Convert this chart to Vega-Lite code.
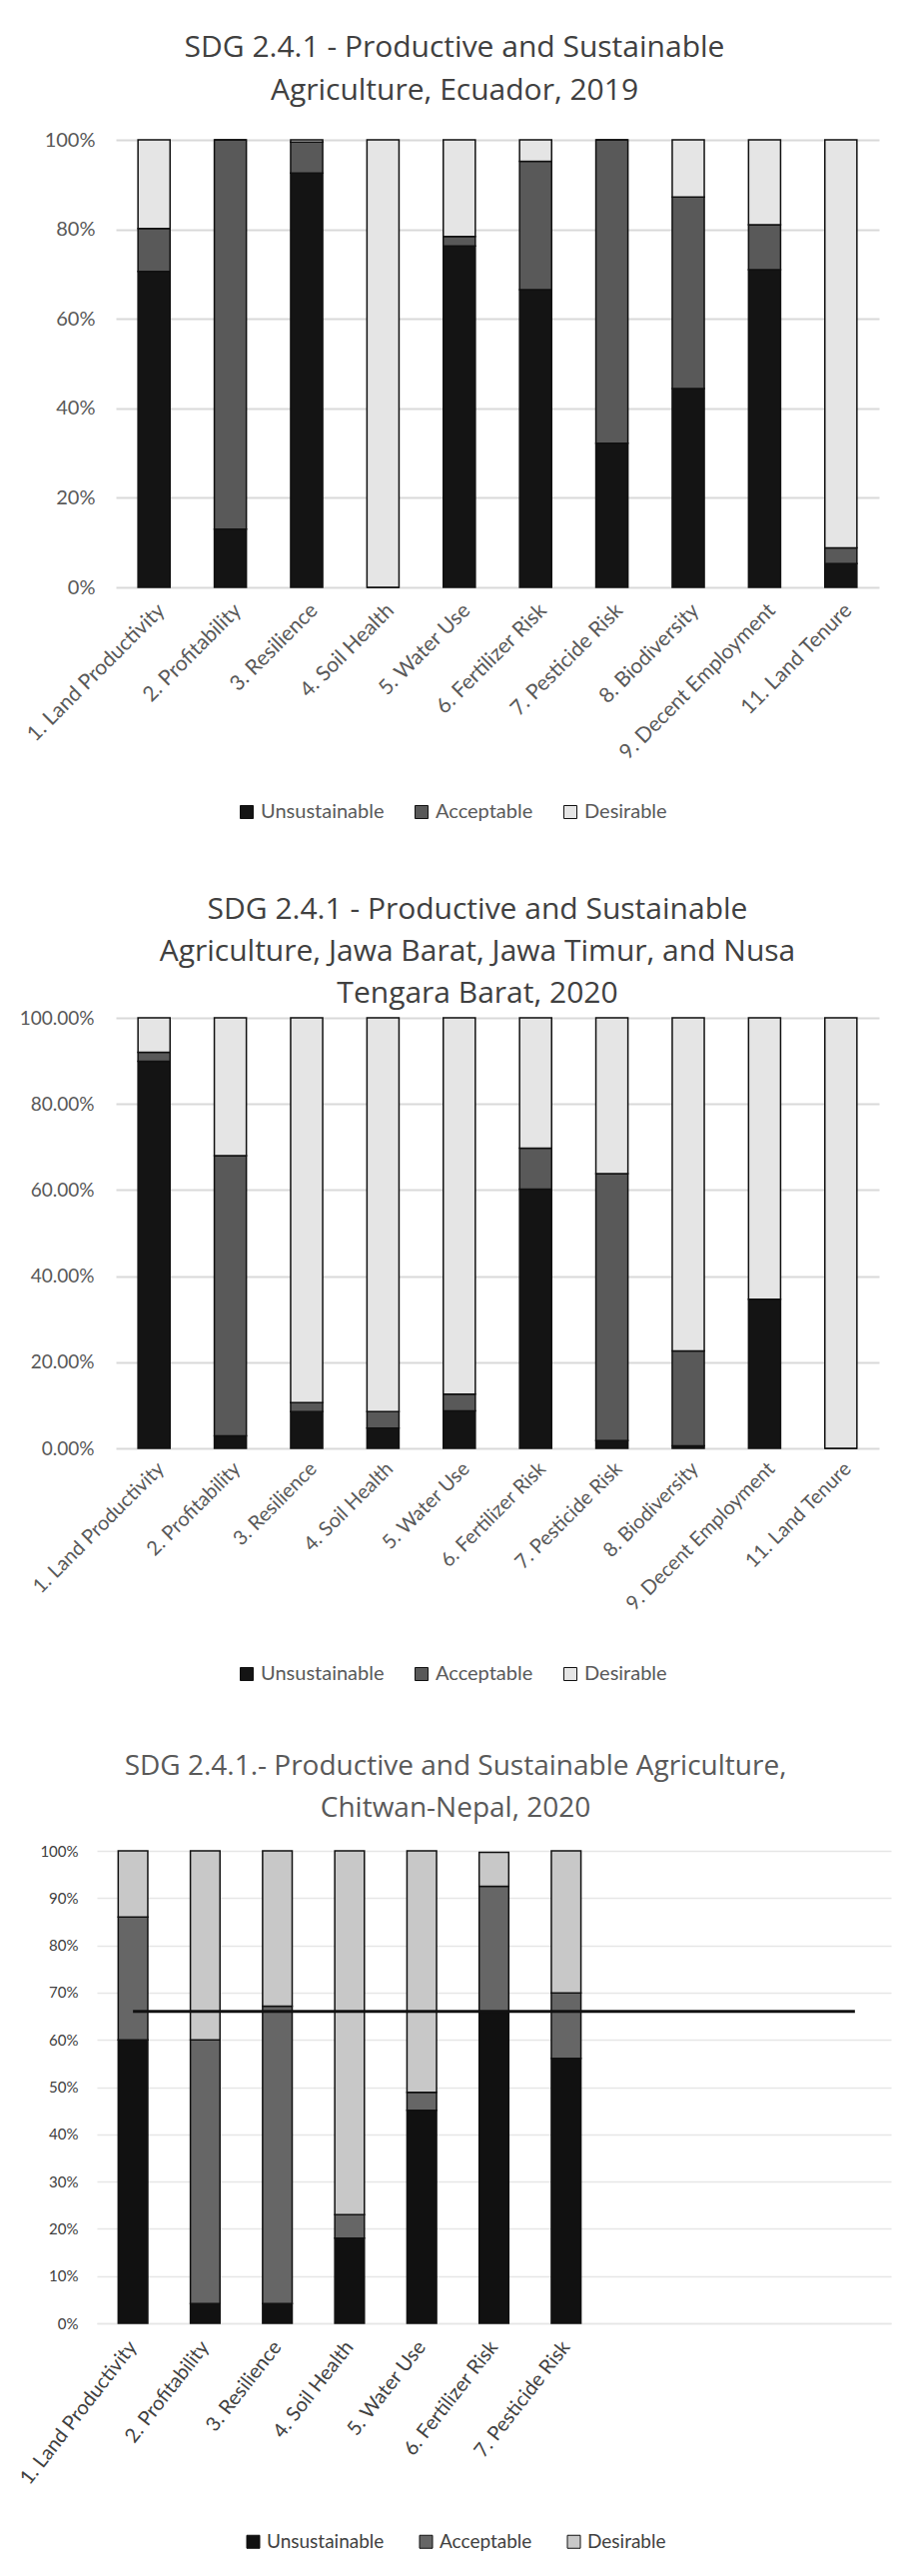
{
  "$schema": "https://vega.github.io/schema/vega-lite/v6.json",
  "autosize": {"type": "none"},
  "padding": {"left": 116, "top": 140, "right": 795, "bottom": 2439},
  "background": "white",
  "config": {"font": "Lato", "view": {"stroke": null}},
  "spacing": 73,
  "resolve": {"scale": {"color": "independent"}, "legend": {"color": "independent"}},
  "datasets": {
    "ecuador": [
      {"indicator": "1. Land Productivity", "status": "Unsustainable", "k": 1, "share": 0.706},
      {"indicator": "1. Land Productivity", "status": "Acceptable", "k": 2, "share": 0.096},
      {"indicator": "1. Land Productivity", "status": "Desirable", "k": 3, "share": 0.198},
      {"indicator": "2. Profitability", "status": "Unsustainable", "k": 1, "share": 0.13},
      {"indicator": "2. Profitability", "status": "Acceptable", "k": 2, "share": 0.87},
      {"indicator": "2. Profitability", "status": "Desirable", "k": 3, "share": 0.0},
      {"indicator": "3. Resilience", "status": "Unsustainable", "k": 1, "share": 0.926},
      {"indicator": "3. Resilience", "status": "Acceptable", "k": 2, "share": 0.069},
      {"indicator": "3. Resilience", "status": "Desirable", "k": 3, "share": 0.005},
      {"indicator": "4. Soil Health", "status": "Unsustainable", "k": 1, "share": 0.0},
      {"indicator": "4. Soil Health", "status": "Acceptable", "k": 2, "share": 0.0},
      {"indicator": "4. Soil Health", "status": "Desirable", "k": 3, "share": 1.0},
      {"indicator": "5. Water Use", "status": "Unsustainable", "k": 1, "share": 0.763},
      {"indicator": "5. Water Use", "status": "Acceptable", "k": 2, "share": 0.021},
      {"indicator": "5. Water Use", "status": "Desirable", "k": 3, "share": 0.216},
      {"indicator": "6. Fertilizer Risk", "status": "Unsustainable", "k": 1, "share": 0.665},
      {"indicator": "6. Fertilizer Risk", "status": "Acceptable", "k": 2, "share": 0.287},
      {"indicator": "6. Fertilizer Risk", "status": "Desirable", "k": 3, "share": 0.048},
      {"indicator": "7. Pesticide Risk", "status": "Unsustainable", "k": 1, "share": 0.322},
      {"indicator": "7. Pesticide Risk", "status": "Acceptable", "k": 2, "share": 0.678},
      {"indicator": "7. Pesticide Risk", "status": "Desirable", "k": 3, "share": 0.0},
      {"indicator": "8. Biodiversity", "status": "Unsustainable", "k": 1, "share": 0.444},
      {"indicator": "8. Biodiversity", "status": "Acceptable", "k": 2, "share": 0.428},
      {"indicator": "8. Biodiversity", "status": "Desirable", "k": 3, "share": 0.128},
      {"indicator": "9. Decent Employment", "status": "Unsustainable", "k": 1, "share": 0.71},
      {"indicator": "9. Decent Employment", "status": "Acceptable", "k": 2, "share": 0.1},
      {"indicator": "9. Decent Employment", "status": "Desirable", "k": 3, "share": 0.19},
      {"indicator": "11. Land Tenure", "status": "Unsustainable", "k": 1, "share": 0.053},
      {"indicator": "11. Land Tenure", "status": "Acceptable", "k": 2, "share": 0.035},
      {"indicator": "11. Land Tenure", "status": "Desirable", "k": 3, "share": 0.912}
    ],
    "indonesia": [
      {"indicator": "1. Land Productivity", "status": "Unsustainable", "k": 1, "share": 0.899},
      {"indicator": "1. Land Productivity", "status": "Acceptable", "k": 2, "share": 0.021},
      {"indicator": "1. Land Productivity", "status": "Desirable", "k": 3, "share": 0.08},
      {"indicator": "2. Profitability", "status": "Unsustainable", "k": 1, "share": 0.029},
      {"indicator": "2. Profitability", "status": "Acceptable", "k": 2, "share": 0.651},
      {"indicator": "2. Profitability", "status": "Desirable", "k": 3, "share": 0.32},
      {"indicator": "3. Resilience", "status": "Unsustainable", "k": 1, "share": 0.085},
      {"indicator": "3. Resilience", "status": "Acceptable", "k": 2, "share": 0.021},
      {"indicator": "3. Resilience", "status": "Desirable", "k": 3, "share": 0.894},
      {"indicator": "4. Soil Health", "status": "Unsustainable", "k": 1, "share": 0.047},
      {"indicator": "4. Soil Health", "status": "Acceptable", "k": 2, "share": 0.038},
      {"indicator": "4. Soil Health", "status": "Desirable", "k": 3, "share": 0.915},
      {"indicator": "5. Water Use", "status": "Unsustainable", "k": 1, "share": 0.087},
      {"indicator": "5. Water Use", "status": "Acceptable", "k": 2, "share": 0.039},
      {"indicator": "5. Water Use", "status": "Desirable", "k": 3, "share": 0.874},
      {"indicator": "6. Fertilizer Risk", "status": "Unsustainable", "k": 1, "share": 0.602},
      {"indicator": "6. Fertilizer Risk", "status": "Acceptable", "k": 2, "share": 0.095},
      {"indicator": "6. Fertilizer Risk", "status": "Desirable", "k": 3, "share": 0.303},
      {"indicator": "7. Pesticide Risk", "status": "Unsustainable", "k": 1, "share": 0.018},
      {"indicator": "7. Pesticide Risk", "status": "Acceptable", "k": 2, "share": 0.62},
      {"indicator": "7. Pesticide Risk", "status": "Desirable", "k": 3, "share": 0.362},
      {"indicator": "8. Biodiversity", "status": "Unsustainable", "k": 1, "share": 0.006},
      {"indicator": "8. Biodiversity", "status": "Acceptable", "k": 2, "share": 0.22},
      {"indicator": "8. Biodiversity", "status": "Desirable", "k": 3, "share": 0.774},
      {"indicator": "9. Decent Employment", "status": "Unsustainable", "k": 1, "share": 0.346},
      {"indicator": "9. Decent Employment", "status": "Acceptable", "k": 2, "share": 0.0},
      {"indicator": "9. Decent Employment", "status": "Desirable", "k": 3, "share": 0.654},
      {"indicator": "11. Land Tenure", "status": "Unsustainable", "k": 1, "share": 0.0},
      {"indicator": "11. Land Tenure", "status": "Acceptable", "k": 2, "share": 0.0},
      {"indicator": "11. Land Tenure", "status": "Desirable", "k": 3, "share": 1.0}
    ],
    "nepal": [
      {"indicator": "1. Land Productivity", "status": "Unsustainable", "k": 1, "share": 0.6},
      {"indicator": "1. Land Productivity", "status": "Acceptable", "k": 2, "share": 0.26},
      {"indicator": "1. Land Productivity", "status": "Desirable", "k": 3, "share": 0.14},
      {"indicator": "2. Profitability", "status": "Unsustainable", "k": 1, "share": 0.042},
      {"indicator": "2. Profitability", "status": "Acceptable", "k": 2, "share": 0.558},
      {"indicator": "2. Profitability", "status": "Desirable", "k": 3, "share": 0.4},
      {"indicator": "3. Resilience", "status": "Unsustainable", "k": 1, "share": 0.042},
      {"indicator": "3. Resilience", "status": "Acceptable", "k": 2, "share": 0.629},
      {"indicator": "3. Resilience", "status": "Desirable", "k": 3, "share": 0.329},
      {"indicator": "4. Soil Health", "status": "Unsustainable", "k": 1, "share": 0.18},
      {"indicator": "4. Soil Health", "status": "Acceptable", "k": 2, "share": 0.05},
      {"indicator": "4. Soil Health", "status": "Desirable", "k": 3, "share": 0.77},
      {"indicator": "5. Water Use", "status": "Unsustainable", "k": 1, "share": 0.451},
      {"indicator": "5. Water Use", "status": "Acceptable", "k": 2, "share": 0.038},
      {"indicator": "5. Water Use", "status": "Desirable", "k": 3, "share": 0.511},
      {"indicator": "6. Fertilizer Risk", "status": "Unsustainable", "k": 1, "share": 0.659},
      {"indicator": "6. Fertilizer Risk", "status": "Acceptable", "k": 2, "share": 0.266},
      {"indicator": "6. Fertilizer Risk", "status": "Desirable", "k": 3, "share": 0.072},
      {"indicator": "7. Pesticide Risk", "status": "Unsustainable", "k": 1, "share": 0.561},
      {"indicator": "7. Pesticide Risk", "status": "Acceptable", "k": 2, "share": 0.138},
      {"indicator": "7. Pesticide Risk", "status": "Desirable", "k": 3, "share": 0.301}
    ],
    "threshold": [
      {"indicator": "1. Land Productivity", "share": 0.66},
      {"indicator": "blank 11", "share": 0.66}
    ]
  },
  "vconcat": [
    {
      "data": {"name": "ecuador"},
      "width": 764,
      "height": 448,
      "title": {"text": ["SDG 2.4.1 - Productive and Sustainable", "Agriculture, Ecuador, 2019"], "font": "Open Sans", "fontSize": 30, "fontWeight": "normal", "color": "#404040", "lineHeight": 43, "offset": 24, "frame": "group", "anchor": "middle", "dx": -43},
      "mark": {"type": "bar", "stroke": "#111111", "strokeWidth": 1.5},
      "encoding": {
        "x": {"field": "indicator", "type": "nominal", "sort": null, "scale": {"paddingInner": 0.58, "paddingOuter": 0.29},
          "axis": {"title": null, "labelAngle": -45, "labelFontSize": 21, "labelLimit": 400, "labelColor": "#595959", "ticks": false, "domain": false, "labelPadding": 12}},
        "y": {"field": "share", "type": "quantitative", "stack": "zero", "scale": {"domain": [0, 1], "nice": false},
          "axis": {"title": null, "values": [0, 0.2, 0.4, 0.6, 0.8, 1], "format": ".0%", "labelFontSize": 20, "labelColor": "#595959", "ticks": false, "domain": false, "labelPadding": 21, "gridColor": "#d9d9d9", "gridWidth": 2}},
        "color": {"field": "status", "type": "nominal", "scale": {"domain": ["Unsustainable", "Acceptable", "Desirable"], "range": ["#141414", "#595959", "#e5e5e5"]},
          "legend": {"orient": "none", "legendX": 121, "legendY": 663, "direction": "horizontal", "title": null, "symbolType": "square", "symbolSize": 169, "symbolStrokeColor": "#111111", "symbolStrokeWidth": 1, "labelFontSize": 20, "labelColor": "#595959", "columnPadding": 27, "padding": 0, "labelOffset": 4}},
        "order": {"field": "k", "type": "quantitative"}
      }
    },
    {
      "spacing": 69,
      "resolve": {"scale": {"color": "independent"}, "legend": {"color": "independent"}},
      "vconcat": [
        {
          "data": {"name": "indonesia"},
          "width": 764,
          "height": 431,
          "title": {"text": ["SDG 2.4.1 - Productive and Sustainable", "Agriculture, Jawa Barat, Jawa Timur, and Nusa", "Tengara Barat, 2020"], "font": "Open Sans", "fontSize": 30, "fontWeight": "normal", "color": "#404040", "lineHeight": 42, "offset": 0, "frame": "group", "anchor": "middle", "dx": -20},
          "mark": {"type": "bar", "stroke": "#111111", "strokeWidth": 1.5},
          "encoding": {
            "x": {"field": "indicator", "type": "nominal", "sort": null, "scale": {"paddingInner": 0.58, "paddingOuter": 0.29},
              "axis": {"title": null, "labelAngle": -45, "labelFontSize": 20, "labelLimit": 400, "labelColor": "#595959", "ticks": false, "domain": false, "labelPadding": 10}},
            "y": {"field": "share", "type": "quantitative", "stack": "zero", "scale": {"domain": [0, 1], "nice": false},
              "axis": {"title": null, "values": [0, 0.2, 0.4, 0.6, 0.8, 1], "format": ".2%", "labelFontSize": 19, "labelColor": "#595959", "ticks": false, "domain": false, "labelPadding": 22, "gridColor": "#d9d9d9", "gridWidth": 2}},
            "color": {"field": "status", "type": "nominal", "scale": {"domain": ["Unsustainable", "Acceptable", "Desirable"], "range": ["#141414", "#595959", "#e5e5e5"]},
              "legend": {"orient": "none", "legendX": 121, "legendY": 647, "direction": "horizontal", "title": null, "symbolType": "square", "symbolSize": 169, "symbolStrokeColor": "#111111", "symbolStrokeWidth": 1, "labelFontSize": 20, "labelColor": "#595959", "columnPadding": 27, "padding": 0, "labelOffset": 4}},
            "order": {"field": "k", "type": "quantitative"}
          }
        },
        {
          "width": 776,
          "height": 473,
          "title": {"text": ["SDG 2.4.1.- Productive and Sustainable Agriculture,", "Chitwan-Nepal, 2020"], "font": "Open Sans", "fontSize": 28, "fontWeight": "normal", "color": "#595959", "lineHeight": 42, "offset": 21, "frame": "group", "anchor": "middle", "dx": -48},
          "layer": [
            {
              "data": {"name": "nepal"},
              "mark": {"type": "bar", "stroke": "#111111", "strokeWidth": 1.5},
              "encoding": {
                "x": {"field": "indicator", "type": "nominal",
                  "scale": {"domain": ["1. Land Productivity", "2. Profitability", "3. Resilience", "4. Soil Health", "5. Water Use", "6. Fertilizer Risk", "7. Pesticide Risk", "blank 8", "blank 9", "blank 10", "blank 11"], "range": [-19, 776], "paddingInner": 0.59, "paddingOuter": 0.295},
                  "axis": {"title": null, "labelAngle": -52, "labelFontSize": 20, "labelLimit": 400, "labelColor": "#404040", "ticks": false, "domain": true, "domainColor": "#e6e6e6", "domainWidth": 1.5, "labelPadding": 20, "labelExpr": "indexof(datum.value, '.') >= 0 ? datum.label : ''"}},
                "y": {"field": "share", "type": "quantitative", "stack": "zero", "scale": {"domain": [0, 1], "nice": false},
                  "axis": {"title": null, "values": [0, 0.1, 0.2, 0.3, 0.4, 0.5, 0.6, 0.7, 0.8, 0.9, 1], "format": ".0%", "labelFontSize": 15, "labelColor": "#404040", "ticks": false, "domain": false, "labelPadding": 38, "gridColor": "#e6e6e6", "gridWidth": 1.5}},
                "color": {"field": "status", "type": "nominal", "scale": {"domain": ["Unsustainable", "Acceptable", "Desirable"], "range": ["#111111", "#666666", "#c8c8c8"]},
                  "legend": {"orient": "none", "legendX": 128, "legendY": 682, "direction": "horizontal", "title": null, "symbolType": "square", "symbolSize": 169, "symbolStrokeColor": "#111111", "symbolStrokeWidth": 1, "labelFontSize": 19, "labelColor": "#404040", "columnPadding": 32, "padding": 0, "labelOffset": 4}},
                "order": {"field": "k", "type": "quantitative"}
              }
            },
            {
              "data": {"name": "threshold"},
              "mark": {"type": "line", "color": "#111111", "strokeWidth": 3},
              "encoding": {
                "x": {"field": "indicator", "type": "nominal"},
                "y": {"field": "share", "type": "quantitative"}
              }
            }
          ]
        }
      ]
    }
  ]
}
